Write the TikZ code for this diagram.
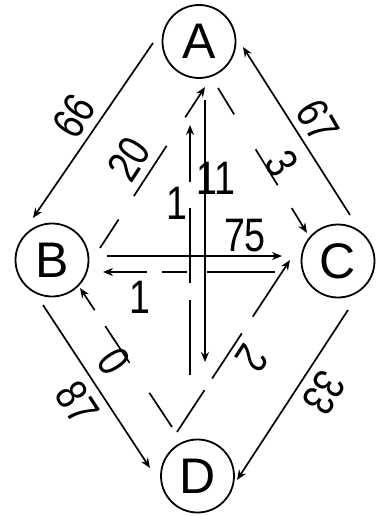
\documentclass[tikz,border=0pt]{standalone}
\usepackage{fontspec}
\setmainfont{Liberation Sans}
\newfontfamily\hand[FakeStretch=0.8]{Liberation Sans}
\usetikzlibrary{arrows.meta,calc}
\begin{document}
\begin{tikzpicture}[x=1pt,y=-1pt,
  vtx/.style={circle,draw,line width=1.8pt,minimum size=73pt,inner sep=0pt,
              font=\fontsize{50}{50}\selectfont},
  edge/.style={line width=1.7pt,-{Stealth[length=10pt,width=8pt]}},
  lab/.style={font=\hand\fontsize{45}{45}\selectfont,inner sep=0pt},
  labu/.style={font=\hand\fontsize{47}{47}\selectfont,inner sep=0pt},
]
\useasboundingbox (0,0) rectangle (380,516);
\fill[white] (0,0) rectangle (380,516);

% vertices
\node[vtx] (A) at (199,41.5) {A};
\node[vtx] (B) at (52,260) {B};
\node[vtx] (C) at (338,261) {C};
\node[vtx] (D) at (197.5,476) {D};

% outer edges
\draw[edge] ($(A)+(-46,1.5)$) -- ($(B)+(-19,-42)$);
\draw[edge] ($(C)+(12,-46)$) -- ($(A)+(44,5.5)$);
\draw[edge] ($(B)+(-9,45)$) -- ($(D)+(-47.5,-8)$);
\draw[edge] ($(C)+(10,49)$) -- ($(D)+(39.5,4)$);

% inner edges
\draw[edge,dash pattern=on 34pt off 28pt on 60pt off 34pt on 40pt off 100pt]
  ($(B)+(48,-12)$) -- ($(A)+(6,45.5)$);
\draw[edge,dash pattern=on 31pt off 41pt on 42pt off 27pt on 40pt off 100pt]
  ($(A)+(19,46.5)$) -- ($(C)+(-31,-28)$);
\draw[edge] ($(B)+(55,-4)$) -- ($(C)+(-56,-5)$);
\draw[edge,dash pattern=on 68pt off 20pt on 25pt off 15pt on 60pt off 100pt]
  ($(C)+(-63,11)$) -- ($(B)+(51,12)$);
\draw[edge] ($(A)+(6,58.5)$) -- ($(D)+(7.5,-114)$);
\draw[edge,dash pattern=on 75pt off 17pt on 75pt off 26pt on 70pt off 100pt]
  ($(D)+(-7.5,-101)$) -- ($(A)+(-9,83.5)$);
\draw[edge,dash pattern=on 50pt off 14pt on 54pt off 20pt on 80pt off 100pt]
  ($(D)+(-20.5,-44)$) -- ($(C)+(-48,-1)$);
\draw[edge,dash pattern=on 41pt off 36pt on 44pt off 19pt on 40pt off 100pt]
  ($(D)+(-25.5,-49)$) -- ($(B)+(28,28)$);

% labels
\node[lab,rotate=57] (l66) at (74,116) {66};
\node[lab,rotate=57] (l20) at (129,159) {20};
\node[lab,rotate=-60] (l67) at (318,121) {67};
\node[lab,rotate=-60] (l3) at (282,163) {3};
\node[labu] (l11) at (216,178) {11};
\node[labu] (l1a) at (177,203) {1};
\node[labu] (l75) at (245,236) {75};
\node[labu] (l1b) at (140,297) {1};
\node[lab,rotate=-57] (l0) at (114,361) {0};
\node[lab,rotate=-57] (l87) at (77,403) {87};
\node[lab,rotate=-123] (l2) at (252,358) {2};
\node[lab,rotate=-123] (l33) at (324,393) {33};
\end{tikzpicture}
\end{document}
